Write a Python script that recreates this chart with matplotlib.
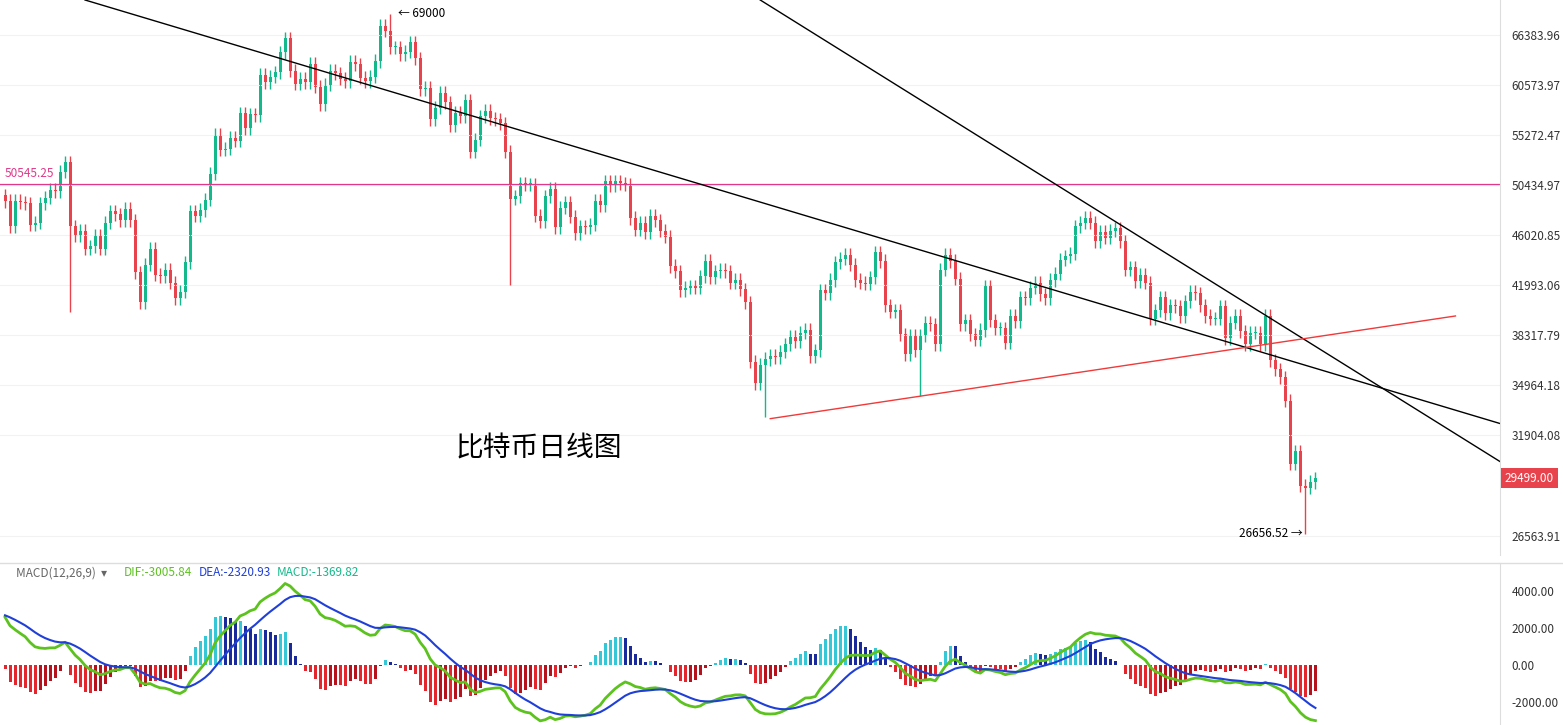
import numpy as np
import matplotlib
matplotlib.use("Agg")
import matplotlib.pyplot as plt

plt.rcParams['font.family'] = ['Noto Sans CJK SC', 'DejaVu Sans']

# daily closes, 2021-08-25 .. 2022-05-14
closes = [
    49000, 46800, 49000, 48900, 48800, 46900, 47100,
    48800, 49300, 50000, 49900, 51700, 52600, 46800, 46000, 46400, 44900, 45100, 46000, 44900,
    47100, 48100, 47800, 47300, 48300, 47300, 43000, 40700, 43600, 44900, 42800, 42700, 43200,
    42200, 41000, 41500, 43800,
    48100, 47700, 48200, 49100, 51500, 55300, 53800, 53900, 55000, 54700, 57500, 56000, 57400,
    57300, 61700, 60900, 61500, 62000, 64300, 66000, 62200, 60700, 61300, 60900, 63000, 60400,
    58500, 60600, 62200, 61900, 61300,
    61000, 63200, 62900, 61400, 61000, 61500, 63300, 67500, 66900, 64900, 64900, 64100, 64400,
    65500, 63600, 60100, 60300, 56900, 58100, 59700, 58700, 56300, 57600, 57200, 58900, 53600,
    54800, 57200, 57800, 57000,
    56900, 56500, 53600, 49200, 49400, 50600, 50500, 50500, 47700, 47200, 49400, 50100, 46700,
    48400, 48900, 47600, 46200, 46800, 46700, 46900, 49000, 48600, 50800, 50400, 50800, 50600,
    50500, 47500, 46500, 47100, 46300,
    47700, 47300, 46400, 45900, 43500, 43100, 41600, 41800, 41900, 41800, 42700, 43900, 42600,
    43100, 43200, 43100, 42200, 42400, 41700, 40700, 36500, 35100, 36300, 36700, 36900, 36800,
    37200, 37700, 38200, 37900, 38500,
    38700, 36900, 37300, 41600, 41400, 42400, 43800, 44100, 44400, 43600, 42400, 42200, 42100,
    42600, 44600, 43900, 40500, 40000, 40100, 38400, 37000, 38300, 37300, 38300, 39200, 39100,
    37700, 43200,
    44400, 43900, 42500, 39100, 39400, 38400, 38000, 38700, 41900, 39400, 38800, 38800, 37800,
    39700, 39300, 41100, 41000, 41800, 42200, 41300, 41000, 42400, 42900, 44000, 44300, 44500,
    46800, 47100, 47500, 47100, 45500,
    46300, 45800, 46400, 46600, 45500, 43200, 43400, 42300, 42800, 42200, 39500, 40100, 41100,
    39900, 40500, 40400, 39700, 40800, 41500, 41400, 40500, 39700, 39500, 39500, 40400, 38100,
    39200, 39700, 38600, 37700,
    38500, 38500, 37700, 39700, 36600, 36000, 35500, 34000, 30300, 31000, 29100, 29000, 29300,
    29499,
]
first_open = 49500
# notable wicks: day index -> price
big_lows = {13: 40000, 101: 42000, 152: 33000, 183: 34300, 260: 26656.52}
big_highs = {77: 69000}

ticks = [66383.96, 60573.97, 55272.47, 50434.97, 46020.85, 41993.06, 38317.79,
         34964.18, 31904.08, 26563.91]
macd_ticks = [4000, 2000, 0, -2000]
hline_price = 50545.25
# trend lines as (day index, price)
line_a = [(16, 70770), (299, 32600)]
line_b = [(151, 70770), (299, 30400)]
line_red = [(153, 32900), (290, 39700)]

closes = np.array(closes, float)
n = len(closes)
x = np.arange(n)
opens = np.concatenate([[first_open], closes[:-1]])
highs = np.maximum(opens, closes) * 1.012
lows = np.minimum(opens, closes) * 0.988
for k, v in big_lows.items():
    lows[k] = v
for k, v in big_highs.items():
    highs[k] = v

up_c, dn_c = '#13b98a', '#e8434c'

fig = plt.figure(figsize=(15.63, 7.25), dpi=100)
ax = fig.add_axes([0, 0.234, 0.96, 0.766])
ax2 = fig.add_axes([0, 0, 0.96, 0.223])

ax.set_yscale('log')
for i in range(n):
    col = up_c if closes[i] >= opens[i] else dn_c
    ax.vlines(x[i], lows[i], highs[i], color=col, lw=1)
    lo, hi = sorted([opens[i], closes[i]])
    hi = max(hi, lo * 1.002)
    ax.bar(x[i], hi - lo, bottom=lo, width=0.6, color=col)

ax.axhline(hline_price, color='#e0398a', lw=0.9)
ax.text(0, hline_price * 1.012, '50545.25', color='#e0398a', fontsize=8.5)
for ln, c in [(line_a, 'black'), (line_b, 'black'), (line_red, '#f03a3a')]:
    ax.plot([p[0] for p in ln], [p[1] for p in ln], color=c, lw=1)

ax.text(78.5, 69000, '← 69000', fontsize=8.5, va='center')
ax.text(259.5, 26656.52, '26656.52 →', fontsize=8.5, va='center', ha='right')
ax.text(90, 30700, '比特币日线图', fontsize=20)

ax.set_xlim(-1, 299)
ax.set_ylim(25620, 70770)
ax.yaxis.tick_right()
ax.set_yticks(ticks)
ax.set_yticklabels(['%.2f' % t for t in ticks], fontsize=8.5, color='#333333')
ax.minorticks_off()
ax.tick_params(axis='y', length=0, pad=8)
ax.set_xticks([])
ax.grid(axis='y', color='#f2f2f2', lw=0.8)
for s in ['top', 'left', 'bottom']:
    ax.spines[s].set_visible(False)
ax.spines['right'].set_color('#dddddd')
ax.text(1.003, 29499, '29499.00', transform=ax.get_yaxis_transform(), fontsize=8.5,
        color='white', va='center', ha='left',
        bbox=dict(boxstyle='square,pad=0.3', fc='#e8434c', ec='none'), clip_on=False)

# MACD(12,26,9), EMAs seeded to carry over the previous trend
e12 = np.zeros(n); e26 = np.zeros(n)
e12[0] = closes[0] + 1200; e26[0] = closes[0] - 1400
for i in range(1, n):
    e12[i] = e12[i - 1] + 2 / 13 * (closes[i] - e12[i - 1])
    e26[i] = e26[i - 1] + 2 / 27 * (closes[i] - e26[i - 1])
dif = e12 - e26
dea = np.zeros(n); dea[0] = 2700
for i in range(1, n):
    dea[i] = dea[i - 1] + 0.2 * (dif[i] - dea[i - 1])
hist = 2 * (dif - dea)
cols = []
for i in range(n):
    prev = hist[i - 1] if i else hist[i]
    if hist[i] >= 0:
        cols.append('#36c7d6' if hist[i] >= prev else '#1b2a9a')
    else:
        cols.append('#e3262e' if hist[i] <= prev else '#b5121d')
ax2.bar(x, hist, width=0.6, color=cols)
ax2.plot(x, dif, color='#5cc21e', lw=2)
ax2.plot(x, dea, color='#1f3fd8', lw=1.5)
ax2.set_xlim(-1, 299)
ax2.set_ylim(-3243, 5514)
ax2.yaxis.tick_right()
ax2.set_yticks(macd_ticks)
ax2.set_yticklabels(['%.2f' % t for t in macd_ticks], fontsize=8.5, color='#333333')
ax2.tick_params(axis='y', length=0, pad=8)
ax2.set_xticks([])
for s in ['top', 'left', 'bottom']:
    ax2.spines[s].set_visible(False)
ax2.spines['right'].set_color('#dddddd')
fig.add_artist(plt.Line2D([0, 1], [0.224, 0.224], color='#dddddd', lw=1))
fig.text(0.01, 0.21, 'MACD(12,26,9)  ▾', fontsize=8.5, color='#666666', va='center')
fig.text(0.079, 0.21, 'DIF:-3005.84', fontsize=8.5, color='#5cc21e', va='center')
fig.text(0.127, 0.21, 'DEA:-2320.93', fontsize=8.5, color='#1f3fd8', va='center')
fig.text(0.177, 0.21, 'MACD:-1369.82', fontsize=8.5, color='#13b98a', va='center')

fig.savefig('out.png', dpi=100)
